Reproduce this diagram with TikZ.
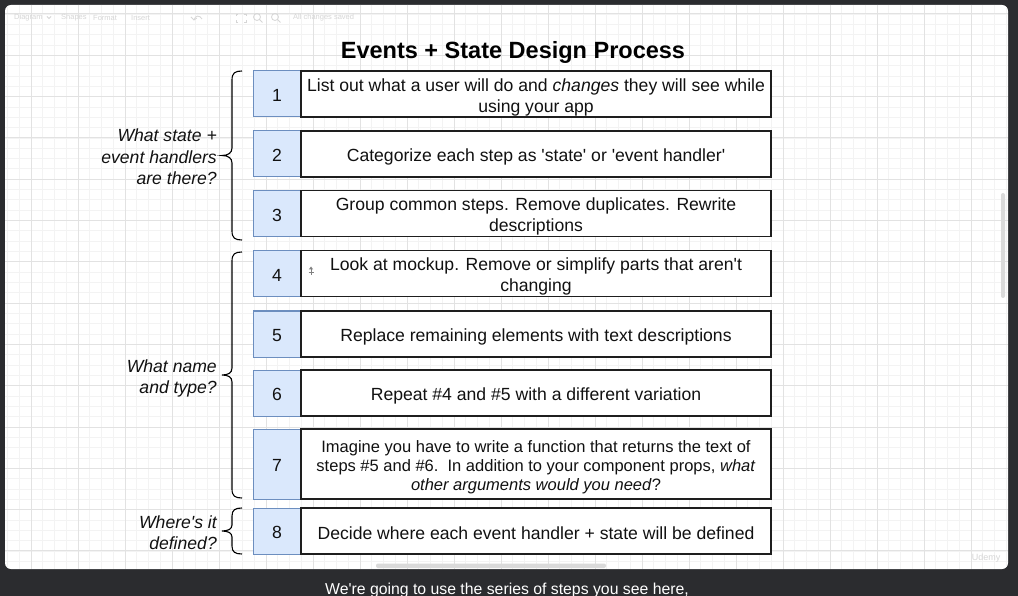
\documentclass[tikz,border=0pt]{standalone}
\usepackage{fontspec}
\setmainfont{Liberation Sans}
\definecolor{darkbg}{HTML}{2B2C2F}
\definecolor{numfill}{HTML}{DAE8FC}
\definecolor{numdraw}{HTML}{6C8EBF}
\definecolor{boxdraw}{HTML}{1E1E1E}
\definecolor{gridminor}{HTML}{F3F3F3}
\definecolor{gridmajor}{HTML}{E2E2E2}
\definecolor{faint}{HTML}{D6D6D6}
\definecolor{scrollc}{HTML}{DADADA}
\definecolor{inkc}{HTML}{111111}
\newcommand{\myq}{\textquotesingle}
\begin{document}
\begin{tikzpicture}[x=1pt,y=-1pt,
  numbox/.style={draw=numdraw, fill=numfill, line width=1pt, minimum width=48pt, inner sep=0pt},
  txtbox/.style={draw=boxdraw, fill=white, line width=1.3pt, minimum width=470pt, inner sep=0pt},
  numtext/.style={inner sep=0pt, text=inkc, font=\fontsize{17.6}{21}\selectfont},
  boxtext/.style={inner sep=0pt, align=center, text=inkc, font=\fontsize{17.6}{21}\selectfont},
  smalltxt/.style={font=\fontsize{16.5}{19}\selectfont},
  lbl/.style={anchor=east, align=right, inner sep=0pt, text=inkc, font=\fontsize{17.6}{21.5}\selectfont\itshape},
  brc/.style={draw=black, line width=1.1pt},
  tb/.style={anchor=west, inner sep=0pt, text=faint, font=\fontsize{7.5}{9}\selectfont},
  tbicon/.style={draw=faint, line width=0.8pt},
  ]
\useasboundingbox (0,0) rectangle (1018,596);
% background and panel
\fill[darkbg] (0,0) rectangle (1018,596);
\fill[white, rounded corners=6pt] (5,5) rectangle (1008,569);
% grid
\begin{scope}
\clip[rounded corners=6pt] (5,5) rectangle (1008,569);
\foreach \i in {0,...,85} \draw[gridminor, line width=0.7pt] ({7.5+11.75*\i},5) -- ({7.5+11.75*\i},569);
\foreach \j in {0,...,54} \draw[gridminor, line width=0.7pt] (5,{3.57+10.33*\j}) -- (1008,{3.57+10.33*\j});
\foreach \i in {0,...,21} \draw[gridmajor, line width=0.8pt] ({31+47*\i},5) -- ({31+47*\i},569);
\foreach \j in {0,...,13} \draw[gridmajor, line width=0.8pt] (5,{13.9+41.3*\j}) -- (1008,{13.9+41.3*\j});
\end{scope}
% toolbar (faint)
\node[tb] (tbd) at (14,17.5) {Diagram};
\draw[tbicon] (47,16.5) -- (49,18.5) -- (51,16.5);
\node[tb] (tbs) at (61,17.5) {Shapes};
\node[tb] (tbf) at (93,17.5) {Format};
\node[tb] (tbi) at (131,17.5) {Insert};
\draw[tbicon] (194,20) .. controls (195,15) and (200,15) .. (202,19);
\draw[tbicon] (191,17) -- (194,20) -- (197,18);
\draw[tbicon] (236,16) -- (236,14) -- (238,14) (244,14) -- (246,14) -- (246,16) (246,20) -- (246,22) -- (244,22) (238,22) -- (236,22) -- (236,20);
\draw[tbicon] (257,17) circle (3.5pt);
\draw[tbicon] (259.5,19.5) -- (262.5,22.5);
\draw[tbicon] (275,17) circle (3.5pt);
\draw[tbicon] (277.5,19.5) -- (280.5,22.5);
\node[tb] (tbsave) at (293,17.5) {All changes saved};
% scrollbars and watermark
\fill[scrollc, rounded corners=2pt] (376,563.5) rectangle (606,568);
\fill[scrollc, rounded corners=2pt] (1001,193) rectangle (1005,298);
\node[inner sep=0pt, text=faint, font=\fontsize{9}{10}\selectfont] (ud) at (986,558) {Udemy};
% title
\node[inner sep=0pt, text=black, font=\fontsize{23.5}{28}\selectfont\bfseries] (title) at (513,52.5) {Events + State Design Process};
% row boxes
\node[numbox, minimum height=46pt] (n1) at (277,94) {};
\node[txtbox, minimum height=46pt] (t1) at (536,94) {};
\node[numbox, minimum height=46pt] (n2) at (277,154) {};
\node[txtbox, minimum height=46pt] (t2) at (536,154) {};
\node[numbox, minimum height=46pt] (n3) at (277,213.5) {};
\node[txtbox, minimum height=46pt] (t3) at (536,213.5) {};
\node[numbox, minimum height=46pt] (n4) at (277,273.5) {};
\node[txtbox, minimum height=46pt] (t4) at (536,273.5) {};
\node[numbox, minimum height=46pt] (n5) at (277,334) {};
\node[txtbox, minimum height=46pt] (t5) at (536,334) {};
\node[numbox, minimum height=46pt] (n6) at (277,393) {};
\node[txtbox, minimum height=46pt] (t6) at (536,393) {};
\node[numbox, minimum height=70pt] (n7) at (277,464) {};
\node[txtbox, minimum height=70pt] (t7) at (536,464) {};
\node[numbox, minimum height=46pt] (n8) at (277,531) {};
\node[txtbox, minimum height=46pt] (t8) at (536,531) {};
% numbers
\node[numtext] (m1) at (277,95.5) {1};
\node[numtext] (m2) at (277,155.5) {2};
\node[numtext] (m3) at (277,215) {3};
\node[numtext] (m4) at (277,275) {4};
\node[numtext] (m5) at (277,335.5) {5};
\node[numtext] (m6) at (277,394.5) {6};
\node[numtext] (m7) at (277,465.5) {7};
\node[numtext] (m8) at (277,532.5) {8};
% box texts
\node[boxtext] (x1) at (536,97) {List out what a user will do and \textit{changes} they will see while\\using your app};
\node[boxtext] (x2) at (536,156.5) {Categorize each step as \myq state\myq{} or \myq event handler\myq};
\node[boxtext] (x3) at (536,216.5) {Group common steps. Remove duplicates. Rewrite\\descriptions};
\node[boxtext] (x4) at (536,276.5) {Look at mockup. Remove or simplify parts that aren\myq t\\changing};
\node[boxtext] (x5) at (536,337) {Replace remaining elements with text descriptions};
\node[boxtext] (x6) at (536,396) {Repeat \#4 and \#5 with a different variation};
\node[boxtext, smalltxt] (x7) at (536,467) {Imagine you have to write a function that returns the text of\\steps \#5 and \#6.\ \ In addition to your component props, \textit{what}\\\textit{other arguments would you need}?};
\node[boxtext] (x8) at (536,533) {Decide where each event handler + state will be defined};
% hover cursor glyph in box 4
\draw[gray, line width=0.8pt] (311,268.5) -- (311,275) (308.5,272) -- (313.5,272);
\fill[gray] (308.8,269.5) -- (311,266.5) -- (313.2,269.5) -- cycle;
% braces
\draw[brc] (242,71) .. controls (235,71) and (232,73) .. (232,80) -- (232,148) .. controls (232,153) and (228,155.5) .. (222,155.5) .. controls (228,155.5) and (232,158) .. (232,163) -- (232,231) .. controls (232,238) and (235,240) .. (242,240);
\draw[brc] (242,252) .. controls (235,252) and (232,254) .. (232,261) -- (232,368) .. controls (232,373) and (228,375) .. (222,375) .. controls (228,375) and (232,377) .. (232,382) -- (232,489) .. controls (232,496) and (235,498) .. (242,498);
\draw[brc] (242,508) .. controls (235,508) and (232,510) .. (232,516) -- (232,525) .. controls (232,529) and (228,531) .. (222,531) .. controls (228,531) and (232,533) .. (232,537) -- (232,546) .. controls (232,552) and (235,554) .. (242,554);
% labels
\node[lbl] (l1) at (217,157) {What state +\\event handlers\\are there?};
\node[lbl] (l2) at (217,378.5) {What name\\and type?};
\node[lbl] (l3) at (217,532.5) {Where\myq s it\\defined?};
% subtitle
\node[inner sep=0pt, text=white, font=\fontsize{15.8}{18}\selectfont] (sub) at (507,590.5) {We\myq re going to use the series of steps you see here,};
\end{tikzpicture}
\end{document}
